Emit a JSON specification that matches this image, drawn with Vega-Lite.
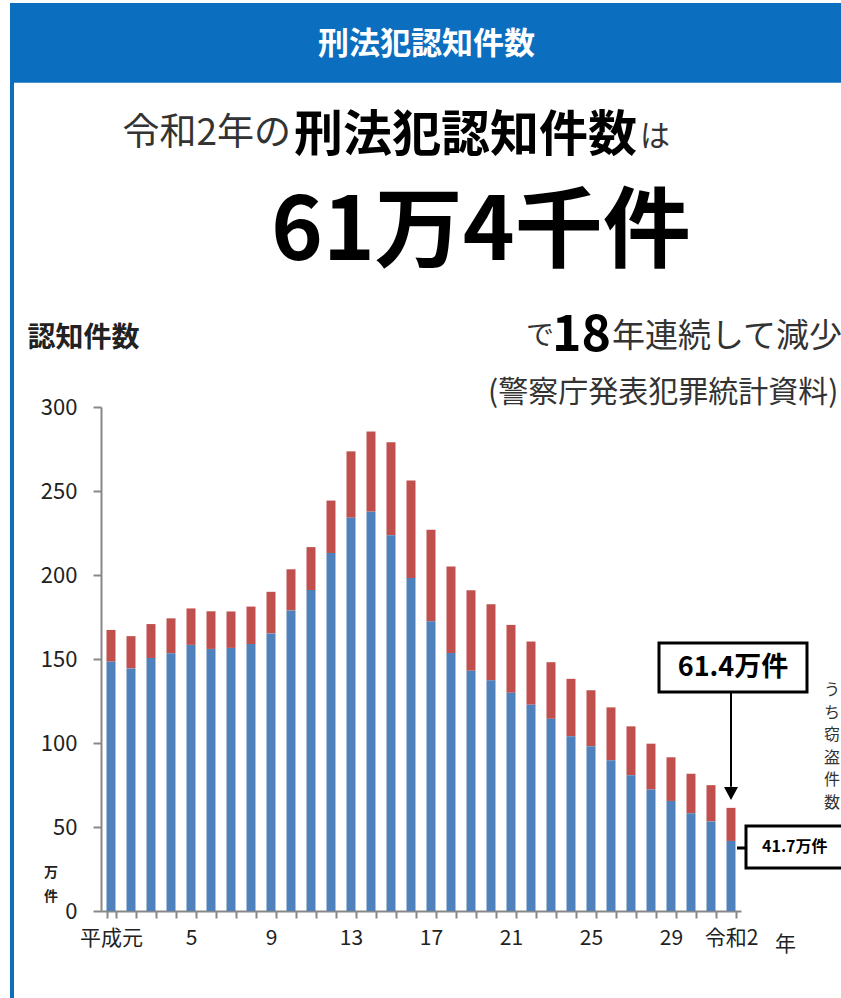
{
  "$schema": "https://vega.github.io/schema/vega-lite/v6.json",
  "autosize": {"type": "none"},
  "padding": {"left": 12, "top": 5, "right": -4, "bottom": -4},
  "width": 833,
  "height": 997,
  "background": "white",
  "view": {"stroke": "#0b6ebf", "strokeWidth": 4, "fill": "white"},
  "config": {"font": "Noto Sans CJK JP"},
  "datasets": {
    "crime": [
      {"year": "平成元", "total": 167.3, "theft": 148.4},
      {"year": "2", "total": 163.6, "theft": 144.4},
      {"year": "3", "total": 170.8, "theft": 150.6},
      {"year": "4", "total": 174.2, "theft": 153.4},
      {"year": "5", "total": 180.1, "theft": 158.4},
      {"year": "6", "total": 178.4, "theft": 156.0},
      {"year": "7", "total": 178.3, "theft": 156.6},
      {"year": "8", "total": 181.2, "theft": 158.9},
      {"year": "9", "total": 190.0, "theft": 165.2},
      {"year": "10", "total": 203.4, "theft": 178.9},
      {"year": "11", "total": 216.6, "theft": 191.0},
      {"year": "12", "total": 244.3, "theft": 213.1},
      {"year": "13", "total": 273.6, "theft": 234.1},
      {"year": "14", "total": 285.4, "theft": 237.7},
      {"year": "15", "total": 279.0, "theft": 223.6},
      {"year": "16", "total": 256.3, "theft": 198.2},
      {"year": "17", "total": 227.0, "theft": 172.5},
      {"year": "18", "total": 205.1, "theft": 153.5},
      {"year": "19", "total": 190.9, "theft": 143.0},
      {"year": "20", "total": 182.6, "theft": 137.3},
      {"year": "21", "total": 170.3, "theft": 129.9},
      {"year": "22", "total": 160.4, "theft": 122.8},
      {"year": "23", "total": 148.1, "theft": 114.4},
      {"year": "24", "total": 138.2, "theft": 104.0},
      {"year": "25", "total": 131.4, "theft": 98.1},
      {"year": "26", "total": 121.2, "theft": 89.7},
      {"year": "27", "total": 109.9, "theft": 80.8},
      {"year": "28", "total": 99.6, "theft": 72.3},
      {"year": "29", "total": 91.5, "theft": 65.5},
      {"year": "30", "total": 81.7, "theft": 58.2},
      {"year": "令和元", "total": 74.9, "theft": 53.3},
      {"year": "令和2", "total": 61.4, "theft": 41.7}
    ]
  },
  "data": {"name": "crime"},
  "layer": [
    {
      "mark": {"type": "bar", "color": "#c0504d"},
      "encoding": {
        "x": {
          "field": "year",
          "type": "ordinal",
          "scale": {
            "domain": ["平成元", "2", "3", "4", "5", "6", "7", "8", "9", "10", "11", "12", "13", "14", "15", "16", "17", "18", "19", "20", "21", "22", "23", "24", "25", "26", "27", "28", "29", "30", "令和元", "令和2"],
            "range": [89, 729],
            "paddingInner": 0.55,
            "paddingOuter": 0.275
          },
          "axis": {
            "orient": "bottom",
            "offset": -91,
            "tickBand": "extent",
            "labelAngle": 0,
            "labelOverlap": false,
            "labelExpr": "indexof(['平成元','5','9','13','17','21','25','29','令和2'], datum.value) >= 0 ? datum.value : ''",
            "labelFontSize": 21,
            "labelColor": "#222",
            "labelPadding": 9,
            "domainColor": "#888",
            "domainWidth": 2,
            "tickColor": "#888",
            "tickWidth": 2,
            "tickSize": 7,
            "title": "年",
            "titleX": 773,
            "titleY": 33,
            "titleAlign": "center",
            "titleBaseline": "middle",
            "titleFontSize": 21,
            "titleFontWeight": "normal",
            "titleColor": "#222"
          }
        },
        "y": {
          "field": "total",
          "type": "quantitative",
          "scale": {"domain": [0, 300], "range": [906, 402], "nice": false, "zero": true},
          "axis": {
            "orient": "left",
            "offset": -89,
            "values": [0, 50, 100, 150, 200, 250, 300],
            "grid": false,
            "domainColor": "#888",
            "domainWidth": 2,
            "tickColor": "#888",
            "tickWidth": 2,
            "tickSize": 8,
            "labelFontSize": 22,
            "labelColor": "#222",
            "labelPadding": 16,
            "title": "認知件数",
            "titleAngle": 0,
            "titleAlign": "left",
            "titleBaseline": "middle",
            "titleX": -74,
            "titleY": 333,
            "titleFontSize": 28,
            "titleFontWeight": "bold",
            "titleColor": "#222"
          }
        },
        "y2": {"field": "theft"}
      }
    },
    {
      "mark": {"type": "bar", "color": "#4f81bd"},
      "encoding": {
        "x": {"field": "year", "type": "ordinal"},
        "y": {"field": "theft", "type": "quantitative"}
      }
    },
    {
      "data": {"values": [{"label": ""}]},
      "mark": {"type": "rect", "color": "#0b6ebf"},
      "encoding": {
        "y": {"datum": 540, "type": "quantitative"},
        "y2": {"datum": 493}
      }
    },
    {
      "data": {"values": [{"label": "刑法犯認知件数"}]},
      "mark": {"type": "text", "color": "white", "fontSize": 31, "fontWeight": "bold", "align": "center", "baseline": "middle", "dx": -2},
      "encoding": {
        "y": {"datum": 515.5, "type": "quantitative"},
        "text": {"field": "label"}
      }
    },
    {
      "data": {"values": [{"label": "令和2年の"}]},
      "mark": {"type": "text", "color": "#333", "fontSize": 37, "fontWeight": "normal", "align": "right", "baseline": "middle"},
      "encoding": {
        "x": {"datum": "10", "type": "ordinal"},
        "y": {"datum": 462.5, "type": "quantitative"},
        "text": {"field": "label"}
      }
    },
    {
      "data": {"values": [{"label": "刑法犯認知件数"}]},
      "mark": {"type": "text", "color": "#000", "fontSize": 49, "fontWeight": "bold", "align": "left", "baseline": "middle", "dx": 3},
      "encoding": {
        "x": {"datum": "10", "type": "ordinal"},
        "y": {"datum": 461.5, "type": "quantitative"},
        "text": {"field": "label"}
      }
    },
    {
      "data": {"values": [{"label": "は"}]},
      "mark": {"type": "text", "color": "#333", "fontSize": 30, "fontWeight": "normal", "align": "left", "baseline": "middle", "dx": 9},
      "encoding": {
        "x": {"datum": "27", "type": "ordinal"},
        "y": {"datum": 460.5, "type": "quantitative"},
        "text": {"field": "label"}
      }
    },
    {
      "data": {"values": [{"label": "61万4千件"}]},
      "mark": {"type": "text", "color": "#000", "fontSize": 88, "fontWeight": "bold", "align": "left", "baseline": "middle"},
      "encoding": {
        "x": {"datum": "9", "type": "ordinal"},
        "y": {"datum": 403, "type": "quantitative"},
        "text": {"field": "label"}
      }
    },
    {
      "data": {"values": [{"label": "で"}]},
      "mark": {"type": "text", "color": "#333", "fontSize": 28, "fontWeight": "normal", "align": "left", "baseline": "middle", "dx": -5},
      "encoding": {
        "x": {"datum": "22", "type": "ordinal"},
        "y": {"datum": 341.7, "type": "quantitative"},
        "text": {"field": "label"}
      }
    },
    {
      "data": {"values": [{"label": "18"}]},
      "mark": {"type": "text", "color": "#000", "fontSize": 50, "fontWeight": "bold", "align": "left", "baseline": "alphabetic", "dx": 1},
      "encoding": {
        "x": {"datum": "23", "type": "ordinal"},
        "y": {"datum": 333.5, "type": "quantitative"},
        "text": {"field": "label"}
      }
    },
    {
      "data": {"values": [{"label": "年連続して減少"}]},
      "mark": {"type": "text", "color": "#333", "fontSize": 33, "fontWeight": "normal", "align": "left", "baseline": "middle", "dx": -19},
      "encoding": {
        "x": {"datum": "27", "type": "ordinal"},
        "y": {"datum": 341.7, "type": "quantitative"},
        "text": {"field": "label"}
      }
    },
    {
      "data": {"values": [{"label": "(警察庁発表犯罪統計資料)"}]},
      "mark": {"type": "text", "color": "#333", "fontSize": 30, "fontWeight": "normal", "align": "left", "baseline": "middle", "dx": -3},
      "encoding": {
        "x": {"datum": "20", "type": "ordinal"},
        "y": {"datum": 308.3, "type": "quantitative"},
        "text": {"field": "label"}
      }
    },
    {
      "data": {"values": [{"label": "61.4万件"}]},
      "mark": {"type": "rule", "color": "#000", "strokeWidth": 2},
      "encoding": {
        "x": {"datum": "令和2", "type": "ordinal"},
        "y": {"datum": 130.4, "type": "quantitative"},
        "y2": {"datum": 74}
      }
    },
    {
      "data": {"values": [{"label": "61.4万件"}]},
      "mark": {"type": "point", "shape": "M-1,-0.85L1,-0.85L0,1Z", "size": 196, "filled": true, "color": "#000", "opacity": 1},
      "encoding": {
        "x": {"datum": "令和2", "type": "ordinal"},
        "y": {"datum": 70.2, "type": "quantitative"}
      }
    },
    {
      "data": {"values": [{"label": "61.4万件"}]},
      "mark": {"type": "point", "shape": "M-0.973,-0.331H1.027V0.331H-0.973Z", "size": 21904, "filled": true, "fill": "white", "stroke": "#000", "strokeWidth": 3, "opacity": 1, "fillOpacity": 1, "strokeOpacity": 1},
      "encoding": {
        "x": {"datum": "令和2", "type": "ordinal"},
        "y": {"datum": 144.9, "type": "quantitative"}
      }
    },
    {
      "data": {"values": [{"label": "61.4万件"}]},
      "mark": {"type": "text", "color": "#000", "fontSize": 27, "fontWeight": "bold", "align": "center", "baseline": "middle", "dx": 2},
      "encoding": {
        "x": {"datum": "令和2", "type": "ordinal"},
        "y": {"datum": 144.9, "type": "quantitative"},
        "text": {"field": "label"}
      }
    },
    {
      "data": {"values": [{"label": "41.7万件"}]},
      "mark": {"type": "point", "shape": "M0.3,-0.42H2.3V0.42H0.3Z M0.12,0.02H0.3", "size": 10000, "filled": true, "fill": "white", "stroke": "#000", "strokeWidth": 3, "opacity": 1, "fillOpacity": 1, "strokeOpacity": 1},
      "encoding": {
        "x": {"datum": "令和2", "type": "ordinal"},
        "y": {"datum": 38.1, "type": "quantitative"}
      }
    },
    {
      "data": {"values": [{"label": "41.7万件"}]},
      "mark": {"type": "text", "color": "#000", "fontSize": 16, "fontWeight": "bold", "align": "left", "baseline": "middle", "dx": 31},
      "encoding": {
        "x": {"datum": "令和2", "type": "ordinal"},
        "y": {"datum": 38.1, "type": "quantitative"},
        "text": {"field": "label"}
      }
    },
    {
      "data": {"values": [{"label": ["う", "ち", "窃", "盗", "件", "数"]}]},
      "mark": {"type": "text", "color": "#333", "fontSize": 16, "lineHeight": 22.6, "align": "center", "baseline": "middle", "dx": 101},
      "encoding": {
        "x": {"datum": "令和2", "type": "ordinal"},
        "y": {"datum": 131.5, "type": "quantitative"},
        "text": {"field": "label"}
      }
    },
    {
      "data": {"values": [{"label": ["万", "件"]}]},
      "mark": {"type": "text", "color": "#222", "fontSize": 14, "fontWeight": "bold", "lineHeight": 24, "align": "center", "baseline": "middle", "dx": -60},
      "encoding": {
        "x": {"datum": "平成元", "type": "ordinal"},
        "y": {"datum": 22.6, "type": "quantitative"},
        "text": {"field": "label"}
      }
    }
  ]
}
